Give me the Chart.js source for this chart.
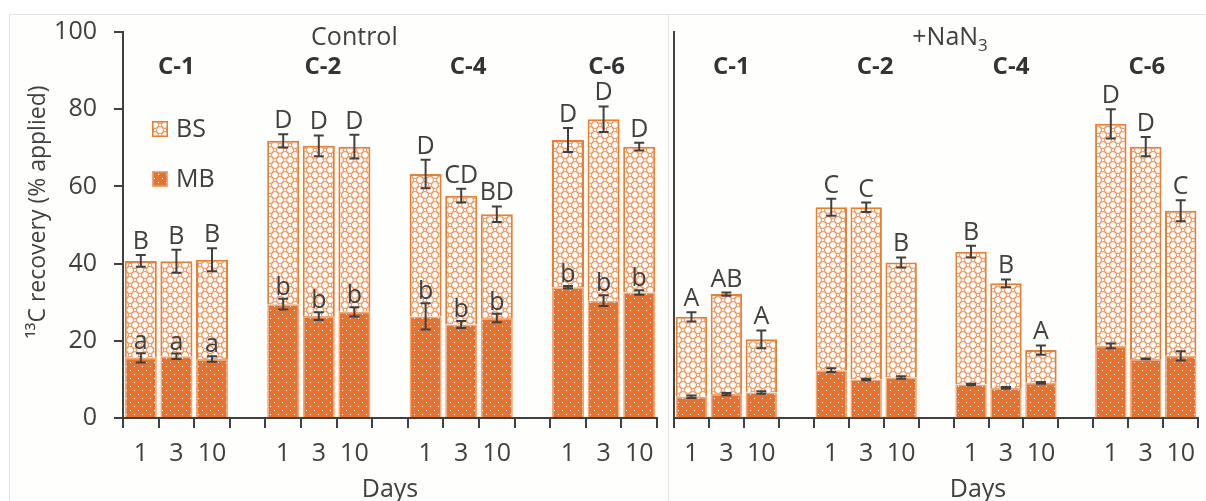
<!DOCTYPE html>
<html lang="en">
<head>
<meta charset="UTF-8">
<title>13C recovery</title>
<script src="https://cdn.jsdelivr.net/npm/chart.js"></script>
<style>
  body { margin: 0; background: #fff; overflow: hidden; }
  #frame { position: absolute; left: 9px; top: 14px; width: 1197px; height: 487px;
           border-left: 1px solid #e6e1dd; border-top: 1px solid #e6e1dd; background: #fefefd; }
  #divider { position: absolute; left: 668px; top: 14px; width: 1px; height: 487px; background: #e6e1dd; }
  canvas { position: absolute; top: 0; }
  #ctlChart { left: 0; }
  #nanChart { left: 668px; }
</style>
</head>
<body>
<div id="frame"></div>
<div id="divider"></div>
<canvas id="ctlChart" width="668" height="501"></canvas>
<canvas id="nanChart" width="538" height="501"></canvas>
<script>
const groups = ['C-1', 'C-2', 'C-4', 'C-6'];
const days = ['1', '3', '10'];

// Control: MB and BS recovery (% applied), errors, significance letters
const ctlMB = [15.6, 16.0, 15.3, 29.5, 26.4, 27.5, 26.3, 24.2, 25.9, 33.9, 30.4, 32.5];
const ctlBS = [25.1, 24.6, 25.7, 42.3, 44.1, 42.8, 36.9, 33.4, 26.9, 38.1, 47.0, 37.8];
const ctlErrMB = [1.2, 0.7, 0.7, 1.4, 1.0, 1.2, 3.4, 0.9, 1.1, 0.3, 1.4, 0.6];
const ctlErrTotal = [1.5, 3.0, 3.0, 1.7, 2.7, 3.1, 3.7, 1.8, 2.0, 3.1, 3.3, 1.0];
const ctlLetters = ['B', 'B', 'B', 'D', 'D', 'D', 'D', 'CD', 'BD', 'D', 'D', 'D'];
const ctlLettersMB = ['a', 'a', 'a', 'b', 'b', 'b', 'b', 'b', 'b', 'b', 'b', 'b'];

// +NaN3
const nanMB = [5.5, 6.2, 6.6, 12.4, 10.0, 10.5, 8.7, 7.8, 9.1, 18.7, 15.3, 16.1];
const nanBS = [20.7, 25.9, 13.8, 42.2, 44.6, 29.8, 34.4, 27.1, 8.5, 57.5, 55.0, 37.6];
const nanErrMB = [0.3, 0.3, 0.3, 0.5, 0.2, 0.3, 0.2, 0.2, 0.2, 0.6, 0.1, 1.2];
const nanErrTotal = [1.2, 0.4, 2.3, 2.2, 1.2, 1.3, 1.5, 1.0, 1.2, 3.8, 2.5, 2.7];
const nanLetters = ['A', 'AB', 'A', 'C', 'C', 'B', 'B', 'B', 'A', 'D', 'D', 'C'];

const INK = '#404040';
const FONT = 'Open Sans';

// insert an empty slot between the groups of three days
function withGaps(arr) {
  const out = [];
  arr.forEach((v, i) => {
    if (i > 0 && i % 3 === 0) out.push(null);
    out.push(v);
  });
  return out;
}
const xLabels = withGaps(groups.flatMap(() => days)).map(v => v === null ? '' : v);

// BS fill: thin orange rings linked into a lattice on white
function latticePattern() {
  const c = document.createElement('canvas');
  c.width = c.height = 10;
  const g = c.getContext('2d');
  g.fillStyle = '#fff';
  g.fillRect(0, 0, 10, 10);
  g.strokeStyle = '#ee8a4c';
  g.lineWidth = 1;
  [[5, 5], [0, 0], [10, 0], [0, 10], [10, 10]].forEach(([px, py]) => {
    g.beginPath();
    g.arc(px, py, 3.5, 0, Math.PI * 2);
    g.stroke();
  });
  return g.createPattern(c, 'repeat');
}

// MB fill: solid orange with sparse white dots
function dotPattern() {
  const c = document.createElement('canvas');
  c.width = c.height = 8;
  const g = c.getContext('2d');
  g.fillStyle = '#e6722f';
  g.fillRect(0, 0, 8, 8);
  g.fillStyle = '#fff';
  g.fillRect(2, 2, 1, 1);
  g.fillRect(6, 6, 1, 1);
  return g.createPattern(c, 'repeat');
}

function whisker(ctx, cx, y, value, err) {
  const top = y.getPixelForValue(value + err);
  const bot = y.getPixelForValue(value - err);
  ctx.beginPath();
  ctx.moveTo(cx, top); ctx.lineTo(cx, bot);
  ctx.moveTo(cx - 5, top); ctx.lineTo(cx + 5, top);
  ctx.moveTo(cx - 5, bot); ctx.lineTo(cx + 5, bot);
  ctx.stroke();
}

// error bars, letters, group labels, panel title, axis names, legend
const annotations = {
  id: 'annot',
  afterDatasetsDraw(chart, args, opts) {
    const { ctx, chartArea: a, scales: { x, y } } = chart;
    const mb = chart.data.datasets[0].data;
    const bs = chart.data.datasets[1].data;
    ctx.save();
    ctx.strokeStyle = INK;
    ctx.fillStyle = INK;
    ctx.lineWidth = 2;
    ctx.textAlign = 'center';
    ctx.textBaseline = 'alphabetic';
    ctx.font = `25px "${FONT}"`;
    mb.forEach((m, i) => {
      if (m === null) return;
      const cx = x.getPixelForValue(i);
      const total = m + bs[i];
      whisker(ctx, cx, y, total, opts.errTotal[i]);
      whisker(ctx, cx, y, m, opts.errMB[i]);
      ctx.fillText(opts.letters[i], cx, y.getPixelForValue(total + opts.errTotal[i]) - 6);
      if (opts.lettersMB && opts.lettersMB[i]) {
        ctx.fillText(opts.lettersMB[i], cx, y.getPixelForValue(m + opts.errMB[i]) - 4);
      }
    });

    // group names above each set of bars
    ctx.font = `bold 24px "${FONT}"`;
    ctx.fillStyle = '#333';
    ctx.textBaseline = 'middle';
    groups.forEach((gname, gi) => {
      ctx.fillText(gname, x.getPixelForValue(gi * 4 + 1) + opts.groupShift[gi], a.top + 35);
    });

    // panel title, with optional subscript
    ctx.fillStyle = INK;
    ctx.font = `25px "${FONT}"`;
    const tx = x.getPixelForValue(opts.titleAt);
    const mainW = ctx.measureText(opts.title).width;
    ctx.font = `17px "${FONT}"`;
    const subW = opts.titleSub ? ctx.measureText(opts.titleSub).width : 0;
    ctx.textAlign = 'left';
    ctx.font = `25px "${FONT}"`;
    const tx0 = tx - (mainW + subW) / 2;
    ctx.fillText(opts.title, tx0, a.top + 6);
    if (opts.titleSub) {
      ctx.font = `17px "${FONT}"`;
      ctx.fillText(opts.titleSub, tx0 + mainW, a.top + 14);
    }

    // axis name under the day ticks
    ctx.font = `25px "${FONT}"`;
    ctx.textAlign = 'center';
    ctx.textBaseline = 'alphabetic';
    ctx.fillText('Days', x.getPixelForValue(opts.daysAt), a.bottom + 79);

    // value axis name
    if (opts.yTitle) {
      ctx.save();
      ctx.translate(a.left - 85, (a.top + a.bottom) / 2 - 13);
      ctx.rotate(-Math.PI / 2);
      ctx.textBaseline = 'middle';
      ctx.font = `23px "${FONT}"`;
      ctx.fillText(opts.yTitle, 0, 0);
      ctx.restore();
    }

    // legend
    if (opts.legend) {
      const items = [['BS', chart.data.datasets[1]], ['MB', chart.data.datasets[0]]];
      items.forEach(([name, ds], k) => {
        const bx = a.left + 29, by = a.top + 89 + k * 50;
        ctx.fillStyle = ds.backgroundColor;
        ctx.fillRect(bx, by, 16, 16);
        ctx.strokeStyle = ds.borderColor;
        ctx.lineWidth = 1.5;
        ctx.strokeRect(bx + 0.75, by + 0.75, 14.5, 14.5);
        ctx.fillStyle = INK;
        ctx.textAlign = 'left';
        ctx.textBaseline = 'middle';
        ctx.font = `25px "${FONT}"`;
        ctx.fillText(name, bx + 24, by + 9);
      });
    }
    ctx.restore();
  }
};

function panel(canvasId, mbVals, bsVals, isLeft, annot) {
  const mbFill = dotPattern();
  const bsFill = latticePattern();
  return new Chart(document.getElementById(canvasId), {
    type: 'bar',
    data: {
      labels: xLabels,
      datasets: [
        { label: 'MB', data: withGaps(mbVals), backgroundColor: mbFill, borderColor: '#f2a774', borderWidth: 1.5 },
        { label: 'BS', data: withGaps(bsVals), backgroundColor: bsFill, borderColor: '#ed7d31', borderWidth: 2 }
      ]
    },
    options: {
      responsive: false,
      animation: false,
      layout: { padding: { top: 32, right: isLeft ? 11 : 0, left: 0, bottom: 0 } },
      datasets: { bar: { barPercentage: 0.9, categoryPercentage: 1 } },
      plugins: {
        legend: { display: false },
        tooltip: { enabled: false },
        annot: annot
      },
      scales: {
        x: {
          stacked: true,
          grid: { offset: true, drawOnChartArea: false, tickLength: 10, color: INK, lineWidth: 2 },
          border: { color: INK, width: 2 },
          ticks: { color: INK, font: { family: FONT, size: 25 }, padding: 11, autoSkip: false, maxRotation: 0 },
          afterFit: s => { s.height = 83; }
        },
        y: {
          stacked: true,
          min: 0,
          max: 100,
          ticks: isLeft
            ? { stepSize: 20, color: INK, font: { family: FONT, size: 25 }, padding: 17 }
            : { display: false },
          grid: isLeft
            ? { drawOnChartArea: false, tickLength: 9, color: INK, lineWidth: 2 }
            : { drawOnChartArea: false, drawTicks: false },
          border: { color: INK, width: 2 },
          afterFit: s => { s.width = isLeft ? 123 : 6; }
        }
      }
    },
    plugins: [annotations]
  });
}

function draw() {
  panel('ctlChart', ctlMB, ctlBS, true, {
    errMB: withGaps(ctlErrMB), errTotal: withGaps(ctlErrTotal),
    letters: withGaps(ctlLetters), lettersMB: withGaps(ctlLettersMB),
    groupShift: [0, 4, 7, 3],
    title: 'Control', titleAt: 6, daysAt: 7, legend: true,
    yTitle: '¹³C recovery (% applied)'
  });
  panel('nanChart', nanMB, nanBS, false, {
    errMB: withGaps(nanErrMB), errTotal: withGaps(nanErrTotal),
    letters: withGaps(nanLetters), lettersMB: null,
    groupShift: [5, 9, 5, 1],
    title: '+NaN', titleSub: '3', titleAt: 7.4, daysAt: 8.2, legend: false
  });
}

Promise.all([
  document.fonts.load(`25px "${FONT}"`),
  document.fonts.load(`bold 24px "${FONT}"`)
]).then(draw, draw);
</script>
</body>
</html>
